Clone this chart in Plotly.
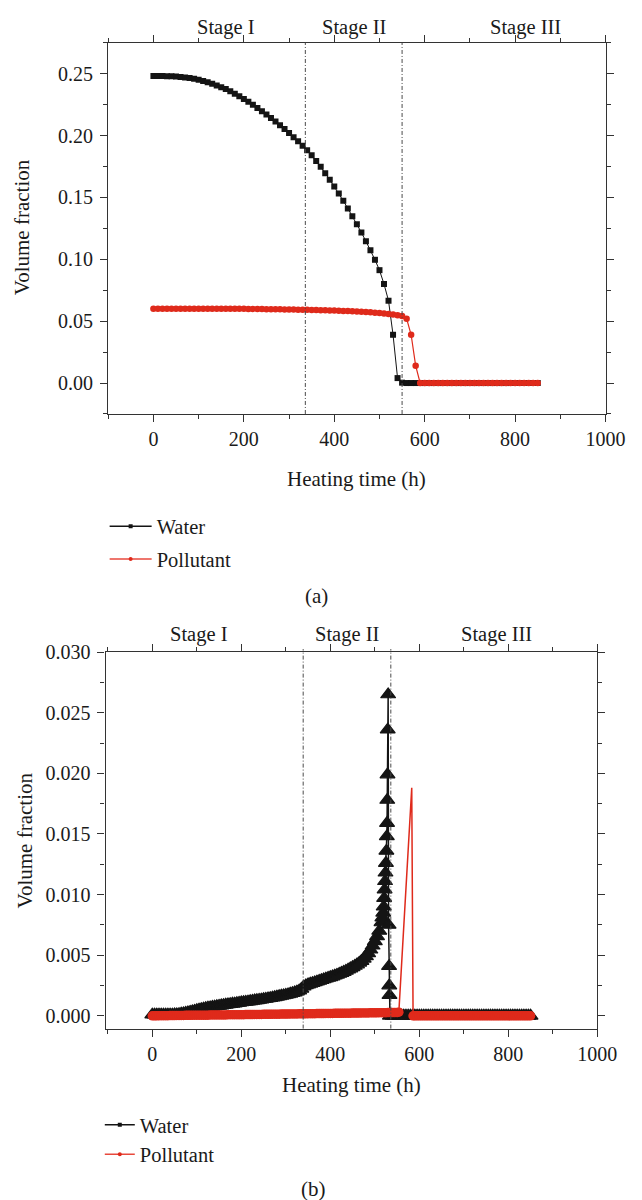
import plotly.graph_objects as go

# ---------------- data: panel (a) ----------------
time_a = list(range(0, 860, 10))
water_a = [0.2480, 0.2480, 0.2480, 0.2479, 0.2478, 0.2476, 0.2473, 0.2469, 0.2464, 0.2458,
           0.2451, 0.2441, 0.2430, 0.2418, 0.2405, 0.2391, 0.2375, 0.2357, 0.2338, 0.2317,
           0.2295, 0.2272, 0.2248, 0.2223, 0.2197, 0.2170, 0.2142, 0.2113, 0.2083, 0.2052,
           0.2020, 0.1987, 0.1953, 0.1918, 0.1882, 0.1840, 0.1795, 0.1747, 0.1696, 0.1643,
           0.1588, 0.1531, 0.1472, 0.1411, 0.1348, 0.1283, 0.1216, 0.1146, 0.1073, 0.0996,
           0.0912, 0.0800, 0.0665, 0.0390, 0.0040, 0.0003, 0.0, 0.0, 0.0, 0.0,
           0.0, 0.0, 0.0, 0.0, 0.0, 0.0, 0.0, 0.0, 0.0, 0.0,
           0.0, 0.0, 0.0, 0.0, 0.0, 0.0, 0.0, 0.0, 0.0, 0.0,
           0.0, 0.0, 0.0, 0.0, 0.0, 0.0]
pollutant_a = [0.0600, 0.0600, 0.0600, 0.0600, 0.0600, 0.0600, 0.0600, 0.0600, 0.0600, 0.0600,
               0.0600, 0.0600, 0.0600, 0.0600, 0.0600, 0.0600, 0.0600, 0.0600, 0.0600, 0.0600,
               0.0600, 0.0599, 0.0599, 0.0598, 0.0598, 0.0597, 0.0597, 0.0596, 0.0596, 0.0595,
               0.0595, 0.0594, 0.0593, 0.0593, 0.0592, 0.0591, 0.0590, 0.0589, 0.0588, 0.0587,
               0.0586, 0.0585, 0.0583, 0.0582, 0.0580, 0.0578, 0.0576, 0.0574, 0.0571, 0.0568,
               0.0565, 0.0561, 0.0557, 0.0553, 0.0548, 0.0542, 0.0520, 0.0390, 0.0140, 0.0,
               0.0, 0.0, 0.0, 0.0, 0.0, 0.0, 0.0, 0.0, 0.0, 0.0,
               0.0, 0.0, 0.0, 0.0, 0.0, 0.0, 0.0, 0.0, 0.0, 0.0,
               0.0, 0.0, 0.0, 0.0, 0.0, 0.0]
stages_a = [336, 550]

# ---------------- data: panel (b) ----------------
time_b_water = (list(range(0, 515, 5))
                + [515, 517, 519, 520, 521, 522, 523, 524, 525, 526, 527, 527.5, 528, 528.5,
                   529, 530, 531, 532, 532.5, 533, 534]
                + list(range(540, 855, 5)))
water_b = [
    # 0 - 45
    0.00010, 0.00010, 0.00010, 0.00010, 0.00010, 0.00010, 0.00010, 0.00010, 0.00010, 0.00010,
    # 50 - 95
    0.00011, 0.00012, 0.00014, 0.00017, 0.00020, 0.00024, 0.00028, 0.00032, 0.00037, 0.00041,
    # 100 - 145
    0.00046, 0.00050, 0.00054, 0.00058, 0.00062, 0.00066, 0.00069, 0.00073, 0.00076, 0.00079,
    # 150 - 195
    0.00082, 0.00085, 0.00088, 0.00091, 0.00094, 0.00096, 0.00099, 0.00101, 0.00104, 0.00107,
    # 200 - 245
    0.00110, 0.00112, 0.00115, 0.00117, 0.00120, 0.00123, 0.00126, 0.00128, 0.00131, 0.00134,
    # 250 - 295
    0.00137, 0.00140, 0.00143, 0.00146, 0.00150, 0.00153, 0.00157, 0.00161, 0.00165, 0.00169,
    # 300 - 345
    0.00173, 0.00177, 0.00182, 0.00187, 0.00192, 0.00199, 0.00208, 0.00222, 0.00240, 0.00251,
    # 350 - 395
    0.00258, 0.00264, 0.00270, 0.00276, 0.00282, 0.00288, 0.00294, 0.00300, 0.00306, 0.00312,
    # 400 - 445
    0.00318, 0.00324, 0.00331, 0.00338, 0.00345, 0.00353, 0.00361, 0.00370, 0.00380, 0.00390,
    # 450 - 495
    0.00400, 0.00411, 0.00423, 0.00437, 0.00452, 0.00470, 0.00490, 0.00515, 0.00545, 0.00578,
    # 500 - 510
    0.00615, 0.00655, 0.00700,
    # spike 515 - 534
    0.0077, 0.0081, 0.0085, 0.0090, 0.0097, 0.0104, 0.0111, 0.0118, 0.0126, 0.0136,
    0.0148, 0.0159, 0.0178, 0.0199, 0.0236, 0.0265, 0.0075, 0.0041, 0.0025, 0.0017, 0.0000,
    # 540 - 850
    0.0, 0.0, 0.0, 0.0, 0.0, 0.0, 0.0, 0.0, 0.0, 0.0,
    0.0, 0.0, 0.0, 0.0, 0.0, 0.0, 0.0, 0.0, 0.0, 0.0,
    0.0, 0.0, 0.0, 0.0, 0.0, 0.0, 0.0, 0.0, 0.0, 0.0,
    0.0, 0.0, 0.0, 0.0, 0.0, 0.0, 0.0, 0.0, 0.0, 0.0,
    0.0, 0.0, 0.0, 0.0, 0.0, 0.0, 0.0, 0.0, 0.0, 0.0,
    0.0, 0.0, 0.0, 0.0, 0.0, 0.0, 0.0, 0.0, 0.0, 0.0,
    0.0, 0.0, 0.0,
]
time_b_poll = list(range(0, 555, 5)) + [554, 583, 586] + list(range(590, 855, 5))
pollutant_b = [
    # 0 - 45
    0.00000, 0.00000, 0.00000, 0.00001, 0.00001, 0.00001, 0.00001, 0.00001, 0.00002, 0.00002,
    # 50 - 95
    0.00002, 0.00003, 0.00003, 0.00003, 0.00003, 0.00004, 0.00004, 0.00004, 0.00005, 0.00005,
    # 100 - 145
    0.00005, 0.00005, 0.00006, 0.00006, 0.00006, 0.00006, 0.00007, 0.00007, 0.00007, 0.00007,
    # 150 - 195
    0.00008, 0.00008, 0.00008, 0.00008, 0.00009, 0.00009, 0.00009, 0.00009, 0.00010, 0.00010,
    # 200 - 245
    0.00010, 0.00010, 0.00011, 0.00011, 0.00011, 0.00011, 0.00012, 0.00012, 0.00012, 0.00012,
    # 250 - 295
    0.00013, 0.00013, 0.00013, 0.00013, 0.00014, 0.00014, 0.00014, 0.00014, 0.00015, 0.00015,
    # 300 - 345
    0.00015, 0.00015, 0.00016, 0.00016, 0.00016, 0.00016, 0.00017, 0.00017, 0.00017, 0.00017,
    # 350 - 395
    0.00018, 0.00018, 0.00018, 0.00018, 0.00019, 0.00019, 0.00019, 0.00019, 0.00020, 0.00020,
    # 400 - 445
    0.00020, 0.00020, 0.00021, 0.00021, 0.00021, 0.00021, 0.00022, 0.00022, 0.00022, 0.00022,
    # 450 - 495
    0.00023, 0.00023, 0.00023, 0.00023, 0.00024, 0.00024, 0.00024, 0.00024, 0.00025, 0.00025,
    # 500 - 545
    0.00025, 0.00025, 0.00026, 0.00026, 0.00026, 0.00026, 0.00027, 0.00027, 0.00027, 0.00028,
    # 550
    0.00028,
    # spike 554, 583, 586
    0.00030, 0.01880, 0.00000,
    # 590 - 850
    0.0, 0.0, 0.0, 0.0, 0.0, 0.0, 0.0, 0.0, 0.0, 0.0,
    0.0, 0.0, 0.0, 0.0, 0.0, 0.0, 0.0, 0.0, 0.0, 0.0,
    0.0, 0.0, 0.0, 0.0, 0.0, 0.0, 0.0, 0.0, 0.0, 0.0,
    0.0, 0.0, 0.0, 0.0, 0.0, 0.0, 0.0, 0.0, 0.0, 0.0,
    0.0, 0.0, 0.0, 0.0, 0.0, 0.0, 0.0, 0.0, 0.0, 0.0,
    0.0, 0.0, 0.0,
]
stages_b = [339, 536]

stage_names = ["Stage I", "Stage II", "Stage III"]
stage_label_x_a = [160, 444, 824]
stage_label_x_b = [105, 437, 774]
x_ticks = [0, 200, 400, 600, 800, 1000]
y_ticks_a = [0.00, 0.05, 0.10, 0.15, 0.20, 0.25]
y_ticks_b = [0.000, 0.005, 0.010, 0.015, 0.020, 0.025, 0.030]

# ---------------- styling ----------------
W, H = 642, 1200
FONT = "Liberation Serif"
BLACK = "#141414"
RED = "#DF2A1B"
AX = "#333333"
GUIDE = "#4a4a4a"
TXT = 21


def px(xp):
    return xp / W


def py(yp):
    return 1 - yp / H


fig = go.Figure()

# panel (a)
fig.add_trace(go.Scatter(x=time_a, y=water_a, mode="lines+markers", showlegend=False,
                         line=dict(color=BLACK, width=1),
                         marker=dict(symbol="square", size=6, color=BLACK),
                         xaxis="x", yaxis="y"))
fig.add_trace(go.Scatter(x=time_a, y=pollutant_a, mode="lines+markers", showlegend=False,
                         line=dict(color=RED, width=1.2),
                         marker=dict(symbol="circle", size=6.5, color=RED),
                         xaxis="x", yaxis="y"))

# panel (b)
fig.add_trace(go.Scatter(x=time_b_water, y=water_b, mode="lines+markers", showlegend=False,
                         line=dict(color=BLACK, width=1.5),
                         marker=dict(symbol="triangle-up", size=13, color=BLACK,
                                     line=dict(color=BLACK, width=1.2)),
                         xaxis="x2", yaxis="y2"))
poll_sizes = [9.5 if v < 0.002 else 0 for v in pollutant_b]
fig.add_trace(go.Scatter(x=time_b_poll, y=pollutant_b, mode="lines+markers", showlegend=False,
                         line=dict(color=RED, width=1.5),
                         marker=dict(symbol="circle", size=poll_sizes, color=RED, opacity=1,
                                     line=dict(width=0)),
                         xaxis="x2", yaxis="y2"))

# legend entries
for leg, grp in (("legend", "a"), ("legend2", "b")):
    xa = "x" if grp == "a" else "x2"
    ya = "y" if grp == "a" else "y2"
    fig.add_trace(go.Scatter(x=[None], y=[None], mode="lines+markers", name="Water",
                             line=dict(color=BLACK, width=1.5),
                             marker=dict(symbol="square", size=4, color=BLACK),
                             legend=leg, legendgroup=grp + "w", xaxis=xa, yaxis=ya))
    fig.add_trace(go.Scatter(x=[None], y=[None], mode="lines+markers", name="Pollutant",
                             line=dict(color="#E8493C", width=1.5),
                             marker=dict(symbol="circle", size=4, color=RED),
                             legend=leg, legendgroup=grp + "p", xaxis=xa, yaxis=ya))

tickfont = dict(family=FONT, size=20, color="#1a1a1a")
common_x = dict(showline=True, linecolor=AX, linewidth=1.3, mirror="ticks", ticks="outside",
                ticklen=7, tickwidth=1.2, tickcolor=AX, showgrid=False, zeroline=False,
                tickvals=x_ticks, tickfont=tickfont,
                minor=dict(ticks="outside", ticklen=4, tickwidth=1, tickcolor=AX, dtick=100, tick0=0,
                           showgrid=False))
common_y = dict(showline=True, linecolor=AX, linewidth=1.3, mirror="ticks", ticks="outside",
                ticklen=7, tickwidth=1.2, tickcolor=AX, showgrid=False, zeroline=False,
                tickfont=tickfont, ticklabelstandoff=3)

fig.update_layout(
    width=W, height=H, margin=dict(l=0, r=0, t=0, b=0),
    paper_bgcolor="white", plot_bgcolor="white",
    font=dict(family=FONT, size=TXT, color="#1a1a1a"),
    xaxis=dict(domain=[px(111.7), px(625)], range=[-100, 1000], anchor="y", **common_x),
    yaxis=dict(domain=[py(406.7), py(32)], range=[-0.025, 0.275], anchor="x",
               tickvals=y_ticks_a, tickformat=".2f",
               minor=dict(ticks="outside", ticklen=4, tickwidth=1, tickcolor=AX, dtick=0.025, tick0=0,
                          showgrid=False), **common_y),
    xaxis2=dict(domain=[px(109), px(616.5)], range=[-105, 1000], anchor="y2", **common_x),
    yaxis2=dict(domain=[py(1027), py(647)], range=[-0.00105, 0.030], anchor="x2",
                tickvals=y_ticks_b, tickformat=".3f",
                minor=dict(ticks="outside", ticklen=4, tickwidth=1, tickcolor=AX, dtick=0.0025, tick0=0,
                           showgrid=False), **common_y),
    legend=dict(x=px(108), y=py(500), xanchor="left", yanchor="top", bgcolor="rgba(0,0,0,0)",
                font=dict(family=FONT, size=20.5), tracegroupgap=3, itemwidth=42),
    legend2=dict(x=px(103), y=py(1104), xanchor="left", yanchor="top", bgcolor="rgba(0,0,0,0)",
                 font=dict(family=FONT, size=20.5), tracegroupgap=0, itemwidth=30),
)

shapes = []
for s in stages_a:
    shapes.append(dict(type="line", xref="x", yref="paper", x0=s, x1=s, y0=py(406.7), y1=py(32),
                       line=dict(color=GUIDE, width=1, dash="4px,2px,1px,2px")))
for s in stages_b:
    shapes.append(dict(type="line", xref="x2", yref="paper", x0=s, x1=s, y0=py(1027), y1=py(644),
                       line=dict(color=GUIDE, width=1, dash="4px,2px,1px,2px")))
fig.update_layout(shapes=shapes)

ann = []
for name, xv in zip(stage_names, stage_label_x_a):
    ann.append(dict(text=name, x=xv, xref="x", y=py(17), yref="paper", showarrow=False,
                    xanchor="center", yanchor="middle", font=dict(family=FONT, size=20.5)))
for name, xv in zip(stage_names, stage_label_x_b):
    ann.append(dict(text=name, x=xv, xref="x2", y=py(629), yref="paper", showarrow=False,
                    xanchor="center", yanchor="middle", font=dict(family=FONT, size=20.5)))
ann += [
    dict(text="Volume fraction", x=px(23), y=py(218), xref="paper", yref="paper", textangle=-90,
         showarrow=False, xanchor="center", yanchor="middle", font=dict(family=FONT, size=TXT)),
    dict(text="Volume fraction", x=px(26), y=py(837), xref="paper", yref="paper", textangle=-90,
         showarrow=False, xanchor="center", yanchor="middle", font=dict(family=FONT, size=TXT)),
    dict(text="Heating time (h)", x=px(368), y=py(472), xref="paper", yref="paper",
         showarrow=False, xanchor="center", yanchor="middle", font=dict(family=FONT, size=TXT)),
    dict(text="Heating time (h)", x=px(363), y=py(1084), xref="paper", yref="paper",
         showarrow=False, xanchor="center", yanchor="middle", font=dict(family=FONT, size=TXT)),
    dict(text="(a)", x=px(327), y=py(590), xref="paper", yref="paper",
         showarrow=False, xanchor="center", yanchor="middle", font=dict(family=FONT, size=TXT)),
    dict(text="(b)", x=px(324), y=py(1189), xref="paper", yref="paper",
         showarrow=False, xanchor="center", yanchor="middle", font=dict(family=FONT, size=TXT)),
]
fig.update_layout(annotations=ann)

fig.write_html("out.html")
